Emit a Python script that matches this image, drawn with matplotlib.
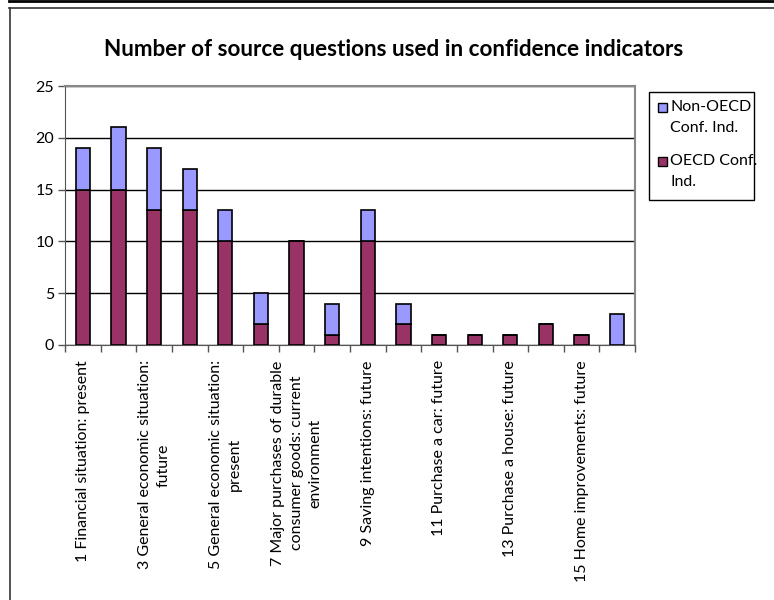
import matplotlib
matplotlib.use("Agg")
import matplotlib.pyplot as plt
from matplotlib.lines import Line2D
from matplotlib.patches import Rectangle
import numpy as np

plt.rcParams['font.family'] = ['Lato', 'DejaVu Sans']

# question number and the label shown under it (only odd ones are labelled)
question_no = list(range(1, 17))
tick_labels = [
    "1 Financial situation: present", "",
    "3 General economic situation:\nfuture", "",
    "5 General economic situation:\npresent", "",
    "7 Major purchases of durable\nconsumer goods: current\nenvironment", "",
    "9 Saving intentions: future", "",
    "11 Purchase a car: future", "",
    "13 Purchase a house: future", "",
    "15 Home improvements: future", "",
]
oecd = [15, 15, 13, 13, 10, 2, 10, 1, 10, 2, 1, 1, 1, 2, 1, 0]
non_oecd = [4, 6, 6, 4, 3, 3, 0, 3, 3, 2, 0, 0, 0, 0, 0, 3]
series_names = ["Non-OECD\nConf. Ind.", "OECD Conf.\nInd."]

OECD_COL = "#993366"
NON_COL = "#9999FF"

W, H = 774, 600
fig = plt.figure(figsize=(W / 100, H / 100), dpi=100)
ax = fig.add_axes([65 / W, 1 - 345 / H, (635 - 65) / W, (345 - 86) / H])

x = np.arange(len(question_no))
bw = 0.4
ax.bar(x, oecd, bw, color=OECD_COL, edgecolor="black", linewidth=1.2, zorder=3)
ax.bar(x, non_oecd, bw, bottom=oecd, color=NON_COL, edgecolor="black",
       linewidth=1.2, zorder=3)

ax.set_xlim(-0.5, len(x) - 0.5)
ax.set_ylim(0, 25)
ax.set_yticks(range(0, 26, 5))
ax.yaxis.grid(True, color="black", linewidth=1, zorder=0)
ax.tick_params(axis="y", length=5, width=1, labelsize=11.5, pad=3,
               direction="out", color="#555555")

# category labels centred on bars, ticks on category boundaries
ax.set_xticks(x)
ax.set_xticklabels(tick_labels, rotation=90, fontsize=11.5,
                   multialignment="center", va="top", ha="center",
                   linespacing=1.45)
ax.tick_params(axis="x", length=0, pad=11)
ax.set_xticks(np.arange(-0.5, len(x)), minor=True)
ax.tick_params(axis="x", which="minor", length=5, width=1, color="#555555")

for side in ("top", "right"):
    ax.spines[side].set_color("#888888")
    ax.spines[side].set_linewidth(1.5)
ax.spines["left"].set_color("#555555")
ax.spines["bottom"].set_color("#555555")

fig.text(0.5 * (100 + 688) / W, 1 - 50 / H,
         "Number of source questions used in confidence indicators",
         ha="center", va="center", fontsize=16.2, fontweight="bold")

# legend box drawn by hand so the swatch sits on the first text line
def px(xp, yp):
    return xp / W, 1 - yp / H

fig.add_artist(Rectangle(px(649, 200), 105 / W, 108 / H, transform=fig.transFigure,
                         facecolor="white", edgecolor="black", lw=1))
for (name, col), top in zip(zip(series_names, [NON_COL, OECD_COL]), [103, 157]):
    fig.add_artist(Rectangle(px(658, top + 9), 9 / W, 9 / H,
                             transform=fig.transFigure, facecolor=col,
                             edgecolor="black", lw=1))
    fig.text(*px(670, top - 3), name, ha="left", va="top", fontsize=11.5,
             linespacing=1.6)

# outer chart frame
fig.add_artist(Line2D([9 / W, 1], [1 - 0.5 / H] * 2, color="black", lw=2))
fig.add_artist(Line2D([9 / W, 1], [1 - 7.5 / H] * 2, color="#333333", lw=1.2))
fig.add_artist(Line2D([9.5 / W] * 2, [0, 1 - 7.5 / H], color="#333333", lw=1.2))

fig.savefig("out.png", dpi=100)
